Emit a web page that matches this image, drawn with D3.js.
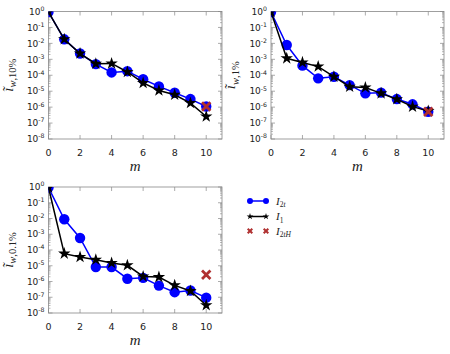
<!DOCTYPE html>
<html><head><meta charset="utf-8">
<script src="https://cdn.jsdelivr.net/npm/d3@7/dist/d3.min.js"></script>
<style>body{margin:0;background:#fff}svg{display:block}</style>
</head><body>
<svg id="c" width="450" height="354"></svg>
<script>
const mValues = [0,1,2,3,4,5,6,7,8,9,10];
const xTicks = [0,2,4,6,8,10];
const yTickExps = [0,-1,-2,-3,-4,-5,-6,-7,-8];

const i2t_10 = [0.93, 1.8e-2, 2.3e-3, 5e-4, 1.5e-4, 1.8e-4, 5.6e-5, 2e-5, 8e-6, 3.2e-6, 1.1e-6];
const i1_10  = [0.93, 1.8e-2, 2.3e-3, 5.3e-4, 5.5e-4, 1.6e-4, 3.3e-5, 1.1e-5, 6e-6, 1.8e-6, 2.6e-7];
const i2tH_10 = [1.1e-6];

const i2t_1 = [0.93, 7.9e-3, 4e-4, 6.4e-5, 8.1e-5, 2.4e-5, 7.3e-6, 8.1e-6, 3.2e-6, 1.5e-6, 5.1e-7];
const i1_1  = [0.93, 1.15e-3, 6.4e-4, 3.5e-4, 8.1e-5, 1.9e-5, 1.7e-5, 7.3e-6, 3.1e-6, 1.07e-6, 5.6e-7];
const i2tH_1 = [5.1e-7];

const i2t_01 = [0.93, 8.9e-3, 5.8e-4, 8.3e-6, 8.3e-6, 1.5e-6, 1.7e-6, 5.5e-7, 2.1e-7, 2.7e-7, 9.4e-8];
const i1_01  = [0.93, 5.9e-5, 3.6e-5, 2.4e-5, 1.5e-5, 1.07e-5, 2.1e-6, 1.9e-6, 5.7e-7, 2.5e-7, 3.1e-8];
const i2tH_01 = [2.7e-6];
const hM = [10];

const ySubs = [",10%", ",1%", ",0.1%"];
const legendLabels = [["2","t"],["1",""],["2","tH"]];

const panels = [
  {x0:48.5, x1:222, y0:11.5, y1:139, i2t:i2t_10, i1:i1_10, h:i2tH_10, sub:ySubs[0]},
  {x0:271, x1:444, y0:11.5, y1:139, i2t:i2t_1, i1:i1_1, h:i2tH_1, sub:ySubs[1]},
  {x0:48.5, x1:222, y0:187, y1:313, i2t:i2t_01, i1:i1_01, h:i2tH_01, sub:ySubs[2]}
];

const BLUE = "#0000ff", RED = "#b03030", FRAME = "#888", TXT = "#222";
const svg = d3.select("#c");
const defs = svg.append("defs");
const star = d3.symbol().type(d3.symbolStar).size(48);

function xMark(g, x, y, s, w){
  g.append("path").attr("d", `M${x-s},${y-s}L${x+s},${y+s}M${x-s},${y+s}L${x+s},${y-s}`)
    .attr("stroke", RED).attr("stroke-width", w).attr("fill","none");
}

panels.forEach((p,pi) => {
  const x = d3.scaleLinear().domain([0,11]).range([p.x0, p.x1]);
  const y = d3.scaleLog().domain([1e-8, 1]).range([p.y1, p.y0]);
  const g = svg.append("g");
  defs.append("clipPath").attr("id","clip"+pi).append("rect")
    .attr("x",p.x0).attr("y",p.y0).attr("width",p.x1-p.x0).attr("height",p.y1-p.y0);

  const minor = [];
  for (let e=-8; e<0; e++) for (let k=2; k<10; k++) minor.push(k*Math.pow(10,e));
  minor.forEach(v => {
    g.append("line").attr("x1",p.x0).attr("x2",p.x0+2).attr("y1",y(v)).attr("y2",y(v)).attr("stroke",FRAME).attr("stroke-width",0.6);
    g.append("line").attr("x1",p.x1).attr("x2",p.x1-2).attr("y1",y(v)).attr("y2",y(v)).attr("stroke",FRAME).attr("stroke-width",0.6);
  });
  yTickExps.forEach(e => {
    const v = Math.pow(10,e);
    g.append("line").attr("x1",p.x0).attr("x2",p.x0+4).attr("y1",y(v)).attr("y2",y(v)).attr("stroke",FRAME).attr("stroke-width",0.7);
    g.append("line").attr("x1",p.x1).attr("x2",p.x1-4).attr("y1",y(v)).attr("y2",y(v)).attr("stroke",FRAME).attr("stroke-width",0.7);
    const t = g.append("text").attr("x", p.x0-4).attr("y", y(v)+3.2).attr("text-anchor","end")
      .attr("font-family","DejaVu Sans").attr("font-size",9).attr("fill",TXT);
    t.append("tspan").text("10");
    t.append("tspan").attr("dy",-3.8).attr("font-size",6.2).text(String(e));
  });
  xTicks.forEach(v => {
    g.append("line").attr("x1",x(v)).attr("x2",x(v)).attr("y1",p.y1).attr("y2",p.y1-4).attr("stroke",FRAME).attr("stroke-width",0.7);
    g.append("line").attr("x1",x(v)).attr("x2",x(v)).attr("y1",p.y0).attr("y2",p.y0+4).attr("stroke",FRAME).attr("stroke-width",0.7);
    g.append("text").attr("x",x(v)).attr("y",p.y1+17).attr("text-anchor","middle")
      .attr("font-family","DejaVu Sans").attr("font-size",9.5).attr("fill",TXT).text(v);
  });
  g.append("rect").attr("x",p.x0).attr("y",p.y0).attr("width",p.x1-p.x0).attr("height",p.y1-p.y0)
    .attr("fill","none").attr("stroke",FRAME).attr("stroke-width",0.8);

  g.append("text").attr("x",(p.x0+p.x1)/2).attr("y",p.y1+32).attr("text-anchor","middle")
    .attr("font-family","Liberation Serif").attr("font-style","italic").attr("font-size",15).attr("fill",TXT).text("m");
  const yl = g.append("text").attr("transform",`translate(${p.x0-36},${(p.y0+p.y1)/2}) rotate(-90)`)
    .attr("text-anchor","middle").attr("font-family","Liberation Serif")
    .attr("font-size",15).attr("fill",TXT);
  yl.append("tspan").attr("font-style","italic").text("ĩ");
  yl.append("tspan").attr("dy",3.5).attr("font-size",10.5).attr("font-style","italic").text("w");
  yl.append("tspan").attr("font-size",10.5).text(p.sub);

  const d = g.append("g").attr("clip-path",`url(#clip${pi})`);
  const line = d3.line().x((v,i)=>x(mValues[i])).y(v=>y(v));
  d.append("path").attr("d",line(p.i2t)).attr("fill","none").attr("stroke",BLUE).attr("stroke-width",1.5);
  p.i2t.forEach((v,i)=>d.append("circle").attr("cx",x(mValues[i])).attr("cy",y(v)).attr("r",5.2).attr("fill",BLUE));
  d.append("path").attr("d",line(p.i1)).attr("fill","none").attr("stroke","#000").attr("stroke-width",1.5);
  p.i1.forEach((v,i)=>d.append("path").attr("d",star()).attr("transform",`translate(${x(mValues[i])},${y(v)})`).attr("fill","#000"));
  p.h.forEach((v,i)=>xMark(d, x(hM[i]), y(v), 4.2, 2.8));
});

// legend
const lg = svg.append("g");
const rows = [201, 216.5, 231];
const lx0 = 250, lx1 = 266;
lg.append("line").attr("x1",lx0).attr("x2",lx1).attr("y1",rows[0]).attr("y2",rows[0]).attr("stroke",BLUE).attr("stroke-width",1.5);
[lx0,lx1].forEach(v=>lg.append("circle").attr("cx",v).attr("cy",rows[0]).attr("r",3).attr("fill",BLUE));
lg.append("line").attr("x1",lx0).attr("x2",lx1).attr("y1",rows[1]).attr("y2",rows[1]).attr("stroke","#000").attr("stroke-width",1.5);
[lx0,lx1].forEach(v=>lg.append("path").attr("d",d3.symbol().type(d3.symbolStar).size(14)()).attr("transform",`translate(${v},${rows[1]})`).attr("fill","#000"));
[lx0,lx1].forEach(v=>xMark(lg, v, rows[2], 2.3, 2));
legendLabels.forEach((l,i)=>{
  const t = lg.append("text").attr("x",276).attr("y",rows[i]+3.5).attr("font-family","Liberation Serif")
    .attr("font-size",11).attr("fill",TXT);
  t.append("tspan").attr("font-style","italic").text("I");
  t.append("tspan").attr("dy",2.5).attr("font-size",7.5).text(l[0]);
  if (l[1]) t.append("tspan").attr("font-size",7.5).attr("font-style","italic").text(l[1]);
});
</script>
</body></html>
